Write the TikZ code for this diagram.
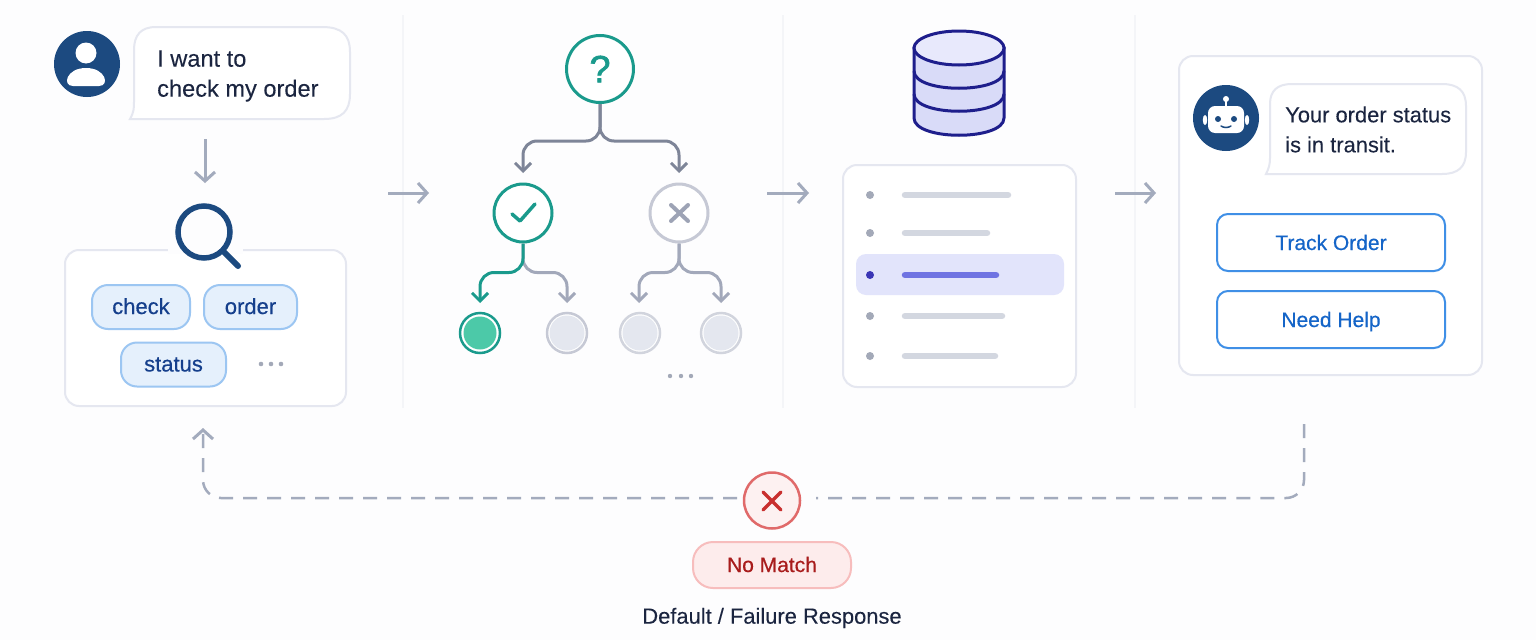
\documentclass[tikz,border=0pt]{standalone}
\usepackage{fontspec}
\setmainfont[FakeBold=0.12]{Liberation Sans}
\newfontfamily\medfont[FakeBold=0.45]{Liberation Sans}
\newfontfamily\heavyfont[FakeBold=1.6]{Liberation Sans}
\usetikzlibrary{arrows.meta}

\definecolor{paper}{HTML}{FDFDFE}
\definecolor{rule}{HTML}{F4F5F8}
\definecolor{panel}{HTML}{E5E7F0}
\definecolor{navy}{HTML}{1C4A80}
\definecolor{ink}{HTML}{1B2540}
\definecolor{flow}{HTML}{A3ABBD}
\definecolor{branch}{HTML}{7E8598}
\definecolor{branchlt}{HTML}{A2A8BA}
\definecolor{teal}{HTML}{1A9A8C}
\definecolor{leafgreen}{HTML}{4CC9A8}
\definecolor{leafgray}{HTML}{E4E7EF}
\definecolor{ringgray}{HTML}{C6C9D5}
\definecolor{chipfill}{HTML}{E5F0FC}
\definecolor{chipline}{HTML}{9CC6F2}
\definecolor{chiptext}{HTML}{153F8C}
\definecolor{dbline}{HTML}{1E1E8C}
\definecolor{dbfill}{HTML}{D9DBF8}
\definecolor{dbtop}{HTML}{E8E9FC}
\definecolor{rowfill}{HTML}{E2E4FB}
\definecolor{rowbar}{HTML}{6F73E2}
\definecolor{rowdot}{HTML}{3A35B5}
\definecolor{barfill}{HTML}{D3D7E0}
\definecolor{dotgray}{HTML}{A3A9B8}
\definecolor{btnline}{HTML}{3F8FE6}
\definecolor{btntext}{HTML}{1565C8}
\definecolor{failred}{HTML}{C9302F}
\definecolor{failline}{HTML}{E06A6A}
\definecolor{failfill}{HTML}{FDF1F1}
\definecolor{pillfill}{HTML}{FDECEC}
\definecolor{pillline}{HTML}{F7BDBD}
\definecolor{pilltext}{HTML}{A81C1C}

\tikzset{
	card/.style={draw=panel, line width=2pt, fill=white, rounded corners=14pt, inner sep=0pt},
	talk/.style={draw=panel, line width=2pt, fill=white},
	talktext/.style={anchor=west, align=left, inner sep=0pt, text=ink},
	avatar/.style={circle, fill=navy, minimum size=66pt, inner sep=0pt},
	bigtip/.style={-{Straight Barb[length=9pt,width=20pt,line width=3pt]}},
	flowarrow/.style={draw=flow, line width=3pt, bigtip},
	chip/.style={draw=chipline, line width=2pt, fill=chipfill, rounded corners=16pt, minimum height=44pt, inner sep=0pt, text height=14pt, text depth=0pt, text=chiptext, font=\medfont\fontsize{22}{26}\selectfont},
	tree/.style={circle, line width=3pt, fill=white, inner sep=0pt},
	treearrow/.style={line width=3pt, rounded corners=14pt, -{Straight Barb[length=8pt,width=16pt,line width=3pt]}},
	leaf/.style={circle, draw=ringgray, line width=2.5pt, fill=white, minimum size=40pt, inner sep=0pt},
	button/.style={draw=btnline, line width=2pt, fill=white, rounded corners=11pt, minimum width=228pt, minimum height=57pt, inner sep=0pt, text height=15pt, text depth=0pt, text=btntext, font=\medfont\fontsize{21}{26}\selectfont},
	dashflow/.style={draw=flow, line width=2.5pt, dash pattern=on 14pt off 10pt, rounded corners=18pt}
}

\begin{document}
\begin{tikzpicture}[x=1pt, y=-1pt]

	\useasboundingbox[fill=paper] (0,0) rectangle (1536,640);

	\foreach \x in {403,783,1135}
		\draw[rule, line width=1.5pt] (\x,15) -- (\x,408);

	% user side
	\node[avatar] (useravatar) at (87,64) {};
	\fill[white] (86,53) circle (10.5pt);
	\fill[white] (73,86) .. controls (62,86) and (66,68) .. (86,68) .. controls (106,68) and (110,86) .. (99,86) -- cycle;

	\draw[talk] (130,119) .. controls (134,112) and (134,108) .. (134,102) -- (134,50) .. controls (134,35) and (141,27) .. (156,27) -- (322,27) .. controls (342,27) and (350,35) .. (350,52) -- (350,94) .. controls (350,111) and (342,119) .. (324,119) -- cycle;
	\node[talktext, font=\fontsize{23.6}{30}\selectfont] (usertext) at (157,76) {I want to\\check my order};

	\coordinate (askfrom) at (205,139);
	\coordinate (askto) at (205,183);
	\draw[flowarrow] (askfrom) -- (askto);

	\node[card, minimum width=281pt, minimum height=156pt] (searchcard) at (205.5,328) {};
	\fill[paper] (168,246) rectangle (243,254);

	\draw[navy, line width=5.5pt] (204,232) circle (26pt);
	\draw[navy, line width=6pt, line cap=round] (223,251) -- (238,266);

	\node[chip, minimum width=98pt] (checkchip) at (141,307) {check};
	\node[chip, minimum width=93pt] (orderchip) at (250.5,307) {order};
	\node[chip, minimum width=105pt] (statuschip) at (173.5,364.5) {status};
	\foreach \x in {261,271,281}
		\fill[dotgray] (\x,364) circle (2.3pt);

	\coordinate (stepAa) at (388,193);
	\coordinate (stepAb) at (429,193);
	\draw[flowarrow] (stepAa) -- (stepAb);

	% decision tree
	\node[tree, draw=teal, minimum size=67pt, text=teal, font=\heavyfont\fontsize{38}{40}\selectfont] (root) at (600,69) {?};
	\node[tree, draw=teal, minimum size=58pt] (yes) at (523,213) {};
	\node[tree, draw=ringgray, minimum size=58pt] (no) at (679,213) {};

	\draw[teal, line width=3.5pt, line cap=round, line join=round] (512,214) -- (520,221) -- (535,204);
	\draw[branchlt!85!branch, line width=4pt, line cap=round] (671,205) -- (688,221) (688,205) -- (671,221);

	\node[leaf, draw=teal] (leafA) at (480,333) {};
	\node[leaf] (leafB) at (567,333) {};
	\node[leaf, draw=ringgray!80] (leafC) at (640,333) {};
	\node[leaf, draw=ringgray!80] (leafD) at (721,333) {};
	\fill[leafgreen] (leafA) circle (16.5pt);
	\foreach \n in {leafB,leafC,leafD}
		\fill[leafgray] (\n) circle (17.5pt);

	\coordinate (yestop) at (523,173);
	\coordinate (notop) at (679,173);
	\coordinate (leafAtop) at (480,303);
	\coordinate (leafBtop) at (567,303);
	\coordinate (leafCtop) at (639,303);
	\coordinate (leafDtop) at (721,303);

	\draw[treearrow, branch] (root.south) -- ++(0,37) -| (yestop);
	\draw[treearrow, branch] (root.south) -- ++(0,37) -| (notop);
	\draw[treearrow, branchlt] (yes.south) -- ++(0,29) -| (leafBtop);
	\draw[treearrow, teal] (yes.south) -- ++(0,29) -| (leafAtop);
	\draw[treearrow, branchlt] (no.south) -- ++(0,29) -| (leafCtop);
	\draw[treearrow, branchlt] (no.south) -- ++(0,29) -| (leafDtop);

	\foreach \x in {670,681,691}
		\fill[dotgray] (\x,376) circle (2.2pt);

	\coordinate (stepBa) at (767,193);
	\coordinate (stepBb) at (809,193);
	\draw[flowarrow] (stepBa) -- (stepBb);

	% database and its rows
	\draw[dbline, fill=dbfill, line width=3pt] (914,48) -- (914,118) .. controls (914,141) and (1004,141) .. (1004,118) -- (1004,48) -- cycle;
	\draw[dbline, line width=3pt] (914,71) .. controls (914,94) and (1004,94) .. (1004,71);
	\draw[dbline, line width=3pt] (914,94) .. controls (914,117) and (1004,117) .. (1004,94);
	\draw[dbline, fill=dbtop, line width=3pt] (959,48) ellipse [x radius=45pt, y radius=17pt];

	\node[card, minimum width=233pt, minimum height=222pt] (listcard) at (959.5,276) {};
	\node[fill=rowfill, rounded corners=10pt, minimum width=208pt, minimum height=41pt, inner sep=0pt] (rowhit) at (960,274.5) {};

	\foreach \y/\e in {195/1008,233/987,316/1002,356/995} {
		\fill[dotgray] (870,\y) circle (4pt);
		\draw[barfill, line width=6.5pt, line cap=round] (905,\y) -- (\e,\y);
	}
	\fill[rowdot] (870,275) circle (4pt);
	\draw[rowbar, line width=6.5pt, line cap=round] (905,275) -- (996,275);

	\coordinate (stepCa) at (1115,193);
	\coordinate (stepCb) at (1156,193);
	\draw[flowarrow] (stepCa) -- (stepCb);

	% bot answer
	\node[card, minimum width=303pt, minimum height=319pt] (botcard) at (1330.5,215.5) {};
	\node[avatar] (botavatar) at (1226,118) {};

	\draw[white, line width=2pt] (1226,106) -- (1226,100);
	\fill[white] (1226,99) circle (3pt);
	\fill[white, rounded corners=7pt] (1208,106) rectangle (1244,133);
	\fill[white] (1205,120) ellipse [x radius=2.2pt, y radius=5pt];
	\fill[white] (1247,120) ellipse [x radius=2.2pt, y radius=5pt];
	\fill[navy] (1218,119) circle (3pt);
	\fill[navy] (1234,119) circle (3pt);
	\draw[navy, line width=1.5pt, line cap=round] (1221,126) .. controls (1224,128) and (1228,128) .. (1231,126);

	\draw[talk] (1266,174) .. controls (1269,168) and (1270,164) .. (1270,158) -- (1270,104) .. controls (1270,91) and (1277,84) .. (1292,84) -- (1442,84) .. controls (1458,84) and (1466,91) .. (1466,106) -- (1466,152) .. controls (1466,167) and (1458,174) .. (1442,174) -- cycle;
	\node[talktext, font=\fontsize{21.9}{30}\selectfont] (bottext) at (1285,129.5) {Your order status\\is in transit.};

	\node[button] (trackbtn) at (1331,242.5) {Track Order};
	\node[button] (helpbtn) at (1331,319.5) {Need Help};

	% no match way back
	\node[circle, draw=failline, line width=2.5pt, fill=failfill, minimum size=56pt, inner sep=0pt] (failmark) at (772,500.5) {};
	\draw[failred, line width=3.5pt, line cap=round] (763,492) -- (781,510) (781,492) -- (763,510);

	\node[draw=pillline, line width=2pt, fill=pillfill, rounded corners=20pt, minimum width=158pt, minimum height=46pt, inner sep=0pt, text height=14pt, text depth=0pt, text=pilltext, font=\medfont\fontsize{21}{26}\selectfont] (nomatch) at (772,565) {No Match};
	\node[text=ink, inner sep=0pt, font=\fontsize{21.9}{26}\selectfont] (failtext) at (772,618) {Default / Failure Response};

	\coordinate (backfrom) at (1304,424);
	\coordinate (backmid) at (772,498);
	\coordinate (backto) at (203,428);
	\draw[dashflow, shorten >=44pt] (backfrom) |- (backmid);
	\draw[dashflow, shorten <=35pt, bigtip] (backmid) -| (backto);

\end{tikzpicture}
\end{document}
